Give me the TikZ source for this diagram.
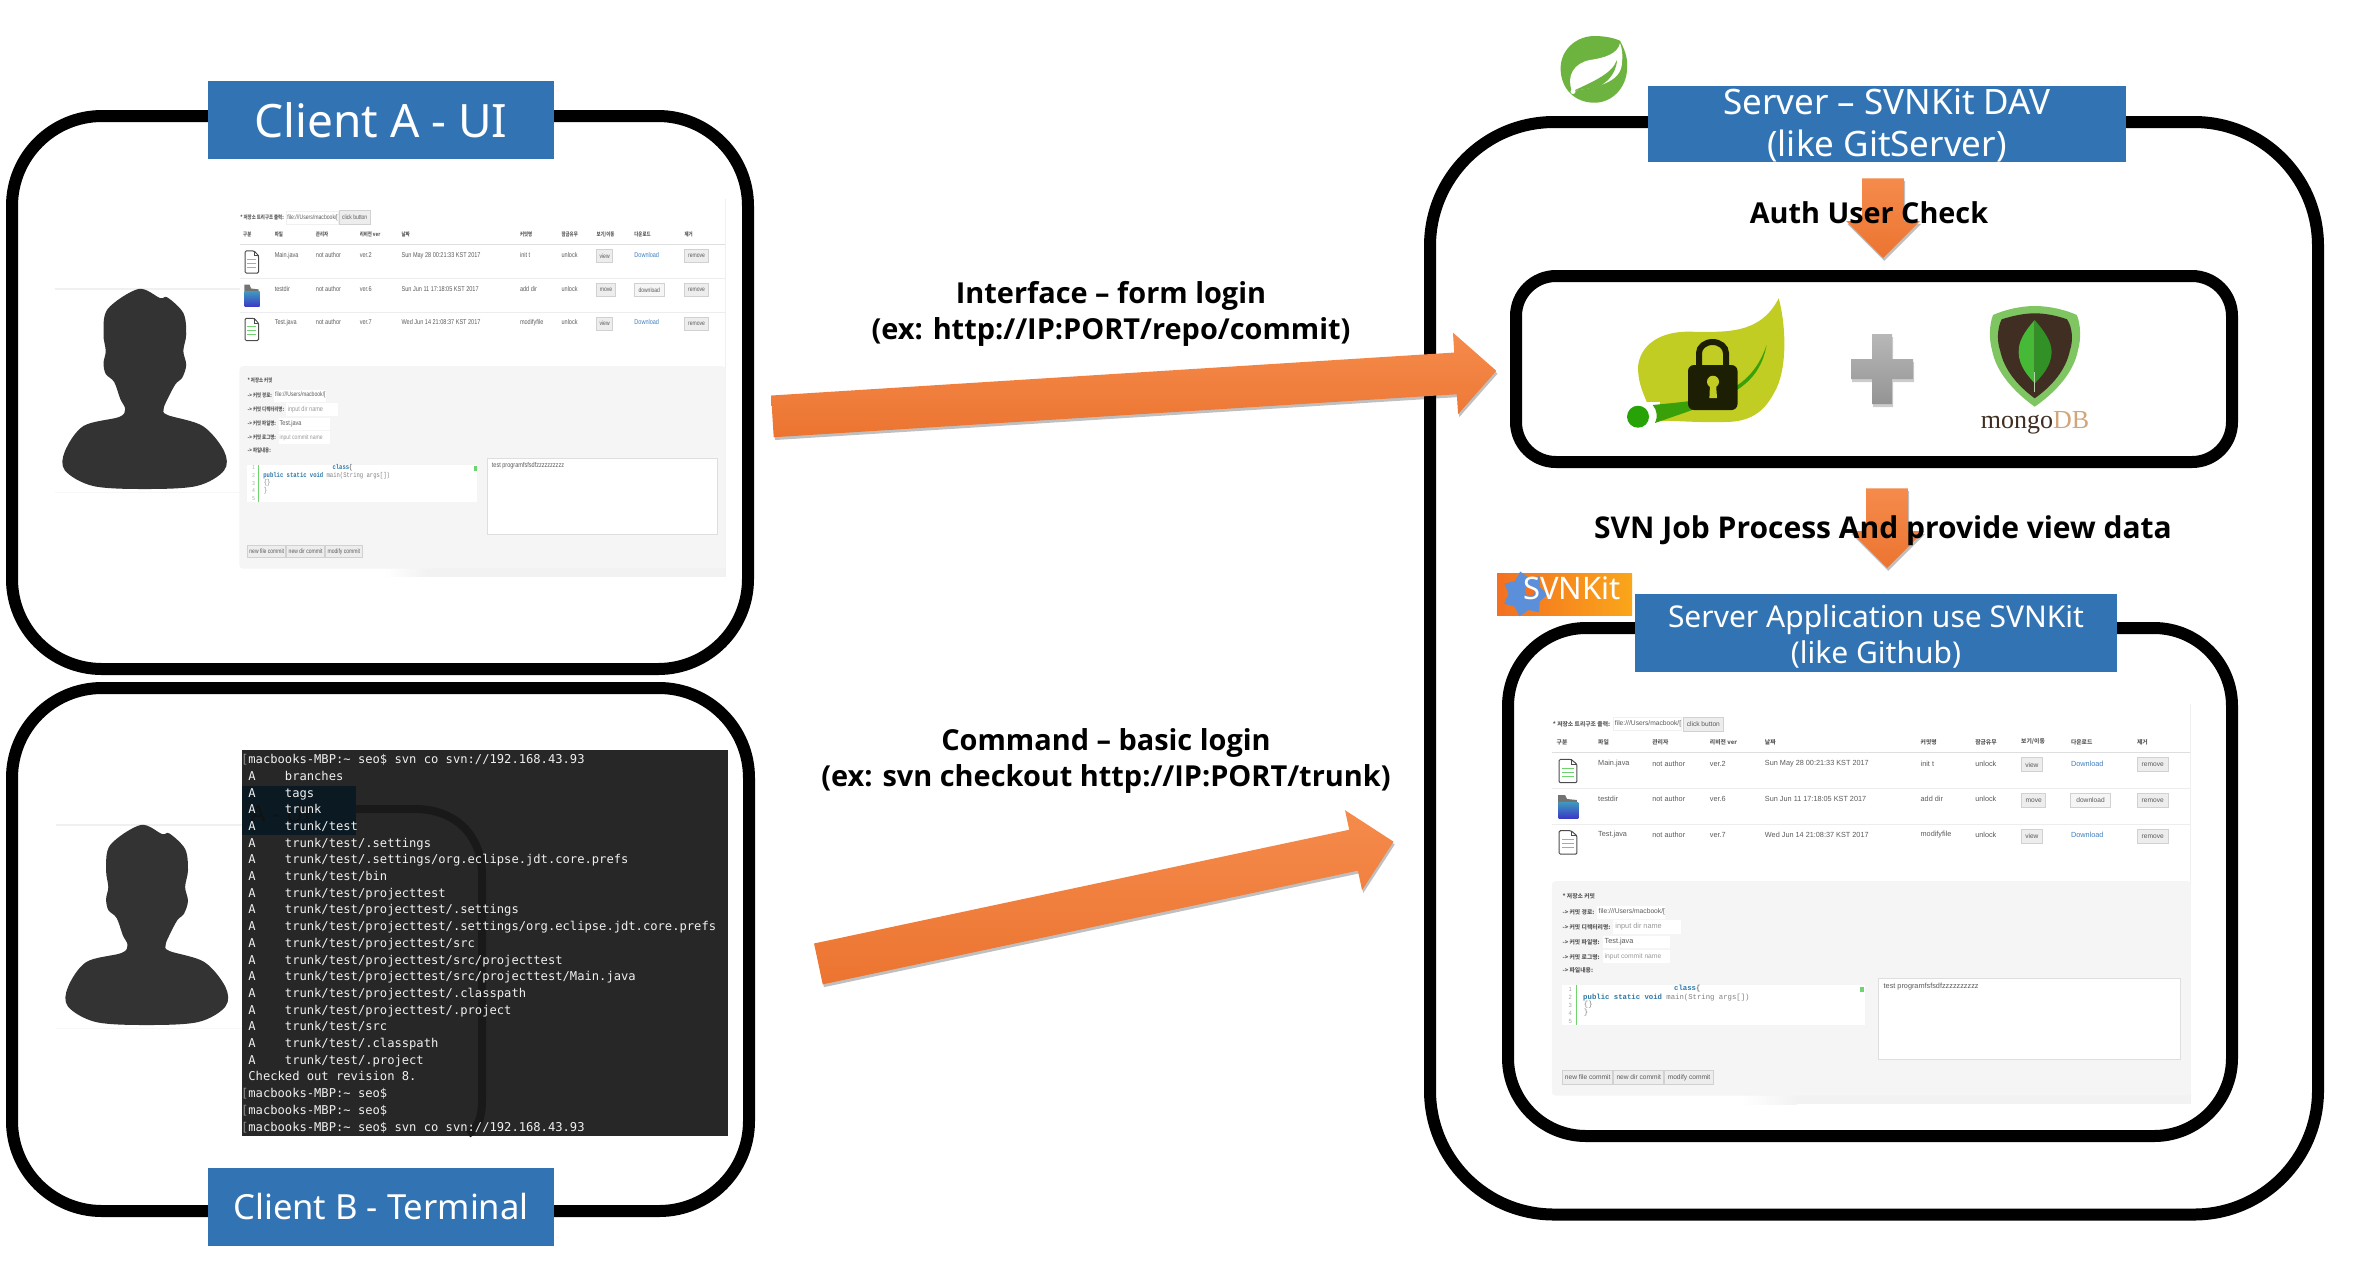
\documentclass[tikz,border=0pt]{standalone}
\usepackage{fontspec}
\usetikzlibrary{shapes.arrows,shapes.geometric,shadows}
\setmainfont{Noto Sans}
\newfontfamily\capfont{Open Sans}
\newfontfamily\krfont{Noto Sans CJK KR}
\newfontfamily\webfont{Liberation Sans}
\newfontfamily\codefont{Liberation Mono}
\newfontfamily\termfont{DejaVu Sans Mono}
\newfontfamily\mongofont{Liberation Serif}
\definecolor{titleblue}{HTML}{3274B3}
\definecolor{arrowlight}{HTML}{F58B4C}
\definecolor{arrowdark}{HTML}{EC7430}
\definecolor{webgrey}{HTML}{5A5A5A}
\definecolor{weblink}{HTML}{3F7FC0}
\definecolor{weblive}{HTML}{6FD46F}
\definecolor{codeblue}{HTML}{2B78A8}
\definecolor{termback}{HTML}{272727}
\definecolor{termsel}{HTML}{0B1A22}
\definecolor{leafyellow}{HTML}{C2CD23}
\definecolor{springgreen}{HTML}{6DB33F}
\definecolor{mongobrown}{HTML}{3F2E21}
\definecolor{mongogreen}{HTML}{7FC662}
\definecolor{svnleft}{HTML}{F37021}
\definecolor{svnright}{HTML}{FAA61A}
\definecolor{svngearblue}{HTML}{5B8FD9}
\tikzset{
  frame/.style={line width=6pt,draw=black},
  titlebox/.style={fill=titleblue,text=white,inner sep=0pt,align=center,minimum width=173pt,minimum height=39pt},
  blockarrow/.style={single arrow,inner sep=0pt,inner ysep=10.25pt,single arrow head extend=10pt,
    single arrow tip angle=90,anchor=tail,top color=arrowlight,bottom color=arrowdark,
    drop shadow={shadow xshift=.6pt,shadow yshift=-1.4pt,opacity=.25,fill=black}},
  caption/.style={font=\capfont\bfseries\fontsize{14.45}{18}\selectfont,align=center,inner sep=0pt},
  webtext/.style={anchor=west,inner sep=0pt,text=webgrey,font=\webfont\fontsize{3.7}{4}\selectfont},
  webhead/.style={anchor=west,inner sep=0pt,text=webgrey,font=\krfont\bfseries\fontsize{2.95}{4}\selectfont},
  webinput/.style={fill=white,draw=black!6,line width=.3pt},
  webbtn/.style={draw=black!18,fill=black!7,line width=.5pt,inner sep=0pt,minimum width=#1,minimum height=7pt,
    text=webgrey,font=\webfont\fontsize{3.35}{4}\selectfont},
  person/.pic={
    \fill[black!80] plot[smooth cycle,tension=.55] coordinates {(75.7,0) (98,9) (105.7,8.5) (122,24) (125,45) (122,62)
      (125,76) (120.7,89) (114,95) (105.7,110) (101.7,120) (105.7,126) (142,137) (164,162) (164,181.5) (135.7,197)
      (82,200) (29,197) (0,181.5) (0,162) (19,137) (55.7,128) (62,120) (57,110) (50.7,93) (42,85) (39.7,74) (42,62)
      (39.7,45) (44,20)};
  },
  docicon/.pic={
    \draw[line width=.5pt,draw=black!70,fill=white,rounded corners=.6pt] (0,0) -- (12,0) -- (18,5) -- (18,23.4) -- (0,23.4) -- cycle;
    \draw[line width=.4pt,draw=black!70] (12,0) -- (12,5) -- (18,5);
    \draw[line width=.5pt,draw=weblive] (3,9) -- (15,9) (3,13) -- (15,13) (3,17) -- (15,17);
  },
  foldericon/.pic={
    \fill[black!55] (0,0) -- (7,0) -- (9,4) -- (19,5) -- (19,12) -- (0,12) -- cycle;
    \shade[top color=blue!30!cyan!50!gray,bottom color=blue!55!gray] (0.5,7) -- (20.5,7) -- (20.5,23.3) -- (0.5,23.3) -- cycle;
  },
  webpage/.pic={
    % outer edge of the page
    \draw[black!6,line width=.5pt] (699.5,4) -- (699.5,404);
    \shade[left color=white,right color=black!5] (245,395) rectangle (300,404);
    \fill[black!5] (300,395) rectangle (699.5,404);
    % tree form
    \node[webhead] (treelabel) at (52.5,24) {* 저장소 트리구조 출력:};
    \node[webinput,webtext,minimum width=34.5pt,minimum height=6.7pt,text width=33pt,inner sep=.4pt,font=\webfont\fontsize{3.4}{4}\selectfont] (treeinput) at (114,24) {file:///Users/macbook/[};
    \node[webbtn=20.5pt] (clickbtn) at (205.5,24) {click button};
    % table head
    \node[webhead] (hkind) at (56.4,42) {구분};
    \node[webhead] (hfile) at (98.5,42) {파일};
    \node[webhead] (huser) at (153.4,42) {관리자};
    \node[webhead] (hrev) at (211.8,42) {리비전 ver};
    \node[webhead] (hdate) at (267.6,42) {날짜};
    \node[webhead] (hcommit) at (425.5,42) {커밋명};
    \node[webhead] (hlock) at (480.9,42) {잠금유무};
    \node[webhead] (hview) at (527.5,42) {보기/이동};
    \node[webhead] (hdown) at (578,42) {다운로드};
    \node[webhead] (hdel) at (645,42) {제거};
    \draw[black!13,line width=.8pt] (52.5,52.3) -- (699.5,52.3);
    \draw[black!7,line width=.6pt] (52.5,88.3) -- (699.5,88.3) (52.5,124.3) -- (699.5,124.3);
    % rows
    \pic at (59.3,59.3) {docicon};
    \node[webtext] (name1) at (98.5,64) {Main.java};
    \node[webtext] (user1) at (153.4,64) {not author};
    \node[webtext] (rev1) at (211.8,64) {ver.2};
    \node[webtext] (date1) at (267.6,64) {Sun May 28 00:21:33 KST 2017};
    \node[webtext] (msg1) at (425.5,64) {init t};
    \node[webtext] (lock1) at (480.9,64) {unlock};
    \node[webbtn=10.8pt] (view1) at (538.7,64.7) {view};
    \node[webtext,text=weblink] (link1) at (578,64) {Download};
    \node[webbtn=15.7pt] (del1) at (661.3,64.7) {remove};
    \pic at (58.3,95) {foldericon};
    \node[webtext] (name2) at (98.5,99.3) {testdir};
    \node[webtext] (user2) at (153.4,99.3) {not author};
    \node[webtext] (rev2) at (211.8,99.3) {ver.6};
    \node[webtext] (date2) at (267.6,99.3) {Sun Jun 11 17:18:05 KST 2017};
    \node[webtext] (msg2) at (425.5,99.3) {add dir};
    \node[webtext] (lock2) at (480.9,99.3) {unlock};
    \node[webbtn=12.5pt] (move2) at (540.5,100.5) {move};
    \node[webbtn=20pt,fill=black!4] (down2) at (598.2,100.5) {download};
    \node[webbtn=15.7pt] (del2) at (661.3,100.5) {remove};
    \pic at (59.3,130.7) {docicon};
    \node[webtext] (name3) at (98.5,135) {Test.java};
    \node[webtext] (user3) at (153.4,135) {not author};
    \node[webtext] (rev3) at (211.8,135) {ver.7};
    \node[webtext] (date3) at (267.6,135) {Wed Jun 14 21:08:37 KST 2017};
    \node[webtext] (msg3) at (425.5,135) {modifyfile};
    \node[webtext] (lock3) at (480.9,135) {unlock};
    \node[webbtn=10.8pt] (view3) at (538.7,136.3) {view};
    \node[webtext,text=weblink] (link3) at (578,135) {Download};
    \node[webbtn=15.7pt] (del3) at (661.3,136.3) {remove};
    % commit panel
    \draw[black!4,fill=black!4,line width=.5pt,rounded corners=1.5pt] (52.5,181.7) rectangle (699.5,395);
    \node[webhead] (commitlabel) at (62.3,196.7) {* 저장소 커밋};
    \node[webhead] (pathlabel) at (62.3,212) {-> 커밋 경로:};
    \fill[white] (98,206) rectangle (166.7,219);
    \node[webtext,font=\webfont\fontsize{3.4}{4}\selectfont] (pathvalue) at (99,212) {file:///Users/macbook/[};
    \node[webhead] (dirlabel) at (62.3,227) {-> 커밋 디렉터리명:};
    \fill[white] (114,220.3) rectangle (183,233.7);
    \node[webtext,text=black!40] (dirvalue) at (116,227) {input dir name};
    \node[webhead] (filelabel) at (62.3,242) {-> 커밋 파일명:};
    \fill[white] (104,235.7) rectangle (172,248.3);
    \node[webtext] (filevalue) at (105,242) {Test.java};
    \node[webhead] (loglabel) at (62.3,257) {-> 커밋 로그명:};
    \fill[white] (104,250.3) rectangle (172,263.3);
    \node[webtext,text=black!40,font=\webfont\fontsize{3.4}{4}\selectfont] (logvalue) at (105,257) {input commit name};
    \node[webhead] (textlabel) at (62.3,270.3) {-> 파일내용:};
    % code box
    \fill[white] (62.3,285.3) rectangle (369,325);
    \fill[weblive] (76,285.3) rectangle (77.5,325);
    \fill[weblive] (364,286.7) rectangle (368,291.7);
    \node[webtext,text=black!35,font=\webfont\fontsize{3}{3.5}\selectfont] (num1) at (68.5,289) {1};
    \node[webtext,text=black!35,font=\webfont\fontsize{3}{3.5}\selectfont] (num2) at (68.5,297.3) {2};
    \node[webtext,text=black!35,font=\webfont\fontsize{3}{3.5}\selectfont] (num3) at (68.5,305) {3};
    \node[webtext,text=black!35,font=\webfont\fontsize{3}{3.5}\selectfont] (num4) at (68.5,313) {4};
    \node[webtext,text=black!35,font=\webfont\fontsize{3}{3.5}\selectfont] (num5) at (68.5,321) {5};
    \node[webtext,text=codeblue,font=\codefont\bfseries\fontsize{3.7}{4}\selectfont] (code1) at (175.5,289) {class\textcolor{black!50}{\{}};
    \node[webtext,text=codeblue,font=\codefont\bfseries\fontsize{3.7}{4}\selectfont] (code2) at (83.3,297.3) {public static void \textcolor{black!50}{\mdseries main(String args[])}};
    \node[webtext,text=black!50,font=\codefont\fontsize{3.7}{4}\selectfont] (code3) at (84,305) {\{\}};
    \node[webtext,text=black!50,font=\codefont\fontsize{3.7}{4}\selectfont] (code4) at (84,313) {\}};
    % text area
    \draw[black!13,fill=white,line width=.4pt] (383,278.3) rectangle (689,359.3);
    \node[webtext] (areatext) at (388,287) {test programfsfsdfzzzzzzzzzz};
    % commit buttons
    \node[webbtn=25.4pt,minimum height=6.7pt] (newfile) at (88.2,377.3) {new file commit};
    \node[webbtn=25.2pt,minimum height=6.7pt] (newdir) at (140,377.3) {new dir commit};
    \node[webbtn=24.7pt,minimum height=6.7pt] (modify) at (191,377.3) {modify commit};
  },
}

\begin{document}
\begin{tikzpicture}[x=0.5pt,y=-0.5pt]
  \useasboundingbox (0,0) rectangle (2356,1282);

  % client a
  \draw[frame,rounded corners=45pt] (12,116) rectangle (748,669);
  \node[titlebox,font=\fontsize{23}{27}\selectfont] (clienta) at (381,120) {Client A - UI};
  \draw[black!6,line width=1pt] (55,289) -- (240,289);
  \draw[black!3,line width=.5pt] (55,492) -- (240,492);
  \pic[xscale=.97] (usera) at (65,289) {person};
  \pic[xscale=.75,yscale=.945,transform shape] (pagea) at (200.6,194.9) {webpage};

  % client b
  \draw[frame,rounded corners=45pt] (12,688) rectangle (749,1211);
  \draw[black!6,line width=1pt] (56,825) -- (243,825);
  \draw[black!3,line width=.5pt] (56,1028) -- (243,1028);
  \pic[xscale=.96] (userb) at (68,825) {person};
  \fill[termback] (242,750) rectangle (728,1136);
  \fill[termsel] (242,786) rectangle (356,835);
  \draw[black!90,line width=4pt] (356,809) -- (415,809) .. controls (455,809) and (482,835) .. (482,875) -- (482,1100)
    .. controls (482,1118) and (478,1128) .. (468,1134);
  \node[anchor=west,inner sep=0pt,text=black!55!termback,font=\fontsize{12}{14}\selectfont] (ghost) at (250,814) {A - UI};
  \node[anchor=north west,inner sep=0pt,align=left,text=black!6,font=\termfont\fontsize{6.07}{8.35}\selectfont] (terminal) at (248,754) {%
    \llap{\textcolor{black!45}{[}}macbooks-MBP:\string~ seo\$ svn co svn://192.168.43.93\\
    A\ \ \ \ branches\\
    A\ \ \ \ tags\\
    A\ \ \ \ trunk\\
    A\ \ \ \ trunk/test\\
    A\ \ \ \ trunk/test/.settings\\
    A\ \ \ \ trunk/test/.settings/org.eclipse.jdt.core.prefs\\
    A\ \ \ \ trunk/test/bin\\
    A\ \ \ \ trunk/test/projecttest\\
    A\ \ \ \ trunk/test/projecttest/.settings\\
    A\ \ \ \ trunk/test/projecttest/.settings/org.eclipse.jdt.core.prefs\\
    A\ \ \ \ trunk/test/projecttest/src\\
    A\ \ \ \ trunk/test/projecttest/src/projecttest\\
    A\ \ \ \ trunk/test/projecttest/src/projecttest/Main.java\\
    A\ \ \ \ trunk/test/projecttest/.classpath\\
    A\ \ \ \ trunk/test/projecttest/.project\\
    A\ \ \ \ trunk/test/src\\
    A\ \ \ \ trunk/test/.classpath\\
    A\ \ \ \ trunk/test/.project\\
    Checked out revision 8.\\
    \llap{\textcolor{black!45}{[}}macbooks-MBP:\string~ seo\$\\
    \llap{\textcolor{black!45}{[}}macbooks-MBP:\string~ seo\$\\
    \llap{\textcolor{black!45}{[}}macbooks-MBP:\string~ seo\$ svn co svn://192.168.43.93};
  \node[titlebox,font=\fontsize{17.3}{22}\selectfont] (clientb) at (381,1207) {Client B - Terminal};

  % server
  \draw[frame,rounded corners=62pt] (1430,122) rectangle (2318,1214.5);
  \draw[frame,rounded corners=20pt] (1516,276) rectangle (2232,462);
  \draw[frame,rounded corners=39pt] (1508,628) rectangle (2232,1136);
  \node[titlebox,minimum width=239pt,minimum height=38pt,font=\fontsize{17.5}{21}\selectfont] (server) at (1887,124)
    {\raisebox{-5.5pt}[0pt][0pt]{Server – SVNKit DAV}\\\raisebox{-5.5pt}[0pt][0pt]{(like GitServer)}};
  \node[titlebox,minimum width=241pt,minimum height=39pt,font=\fontsize{15}{18}\selectfont] (serverapp) at (1876,633)
    {\raisebox{-6pt}[0pt][0pt]{Server Application use SVNKit}\\\raisebox{-6pt}[0pt][0pt]{(like Github)}};

  % spring logo
  \fill[springgreen] (1594.5,36) .. controls (1605,36) and (1614,38) .. (1620,40.7) .. controls (1626,52) and (1628,60) .. (1627,70)
    .. controls (1626,88) and (1612,102.7) .. (1594.5,102.7) .. controls (1574,102.7) and (1560.6,88) .. (1560.6,68.3)
    .. controls (1560.6,50) and (1576,36) .. (1594.5,36) -- cycle;
  \fill[white] (1620,43) .. controls (1618,54) and (1604,58) .. (1590,60) .. controls (1574,63) and (1566,76) .. (1572,91)
    .. controls (1592,88) and (1622,84) .. (1622,62) .. controls (1623,56) and (1622,48) .. (1620,43) -- cycle;
  \fill[springgreen] (1573,91) .. controls (1592,82) and (1612,74) .. (1617,60) .. controls (1616,76) and (1604,84) .. (1598,87) -- cycle;
  \fill[white] (1573,91.5) circle (2.5);

  % spring security logo
  \fill[leafyellow] (1778.7,298.3) .. controls (1786,325) and (1788,370) .. (1774,393) .. controls (1764,412) and (1750,422) .. (1725,422)
    .. controls (1700,423) and (1670,420) .. (1655,421) .. controls (1644,395) and (1638,385) .. (1638,366.7)
    .. controls (1640,345) and (1660,331) .. (1690,331.7) .. controls (1725,332) and (1760,335) .. (1778.7,298.3) -- cycle;
  \fill[white] (1645,402) rectangle (1660,428);
  \fill[black!45!green!70!leafyellow] (1652.7,405) .. controls (1700,400) and (1748,400) .. (1766.6,345)
    .. controls (1758,392) and (1720,400) .. (1655,423) .. controls (1658,417) and (1657,410) .. (1652.7,405) -- cycle;
  \fill[black!40!green!80!leafyellow] (1638,416.7) circle (11);
  \fill[black!85!leafyellow,rounded corners=3pt] (1688,365) rectangle (1737.5,410);
  \draw[black!85!leafyellow,line width=3pt] (1699,367) -- (1699,353) arc[start angle=180,end angle=0,x radius=13.5,y radius=-11] -- (1726,367);
  \fill[leafyellow] (1713,381.7) circle (6);
  \fill[leafyellow] (1710,384) -- (1716,384) -- (1717,398) -- (1709.4,398) -- cycle;

  % plus
  \shade[top color=black!28,bottom color=black!42,drop shadow={shadow xshift=.5pt,shadow yshift=-1.5pt,opacity=.2,fill=black}]
    (1872,334) -- (1892,334) -- (1892,359) -- (1913,359) -- (1913,379) -- (1892,379) -- (1892,404) -- (1872,404) -- (1872,379)
    -- (1851,379) -- (1851,359) -- (1872,359) -- cycle;

  % mongo logo
  \fill[mongogreen] (2034.7,306) .. controls (2050,306) and (2066,310) .. (2076.8,315) .. controls (2081,325) and (2081,340) .. (2078,350)
    .. controls (2074,372) and (2056,392) .. (2034.7,406.7) .. controls (2014,392) and (1996,372) .. (1992,350)
    .. controls (1989,340) and (1989,325) .. (1993,315) .. controls (2004,310) and (2020,306) .. (2034.7,306) -- cycle;
  \fill[mongobrown] (2034.7,313.3) .. controls (2046,313.3) and (2058,316) .. (2067,319.3) .. controls (2073,328) and (2073,342) .. (2070,350)
    .. controls (2066,370) and (2052,386) .. (2034.7,398.3) .. controls (2018,386) and (2004,370) .. (2000,350)
    .. controls (1997,342) and (1997,328) .. (2001.7,319.3) .. controls (2012,316) and (2024,313.3) .. (2034.7,313.3) -- cycle;
  \fill[green!35!mongogreen!85!black] (2034.7,320) .. controls (2024,332) and (2018,342) .. (2018.7,353) .. controls (2019,366) and (2028,376) .. (2034.7,383.3) -- cycle;
  \fill[green!40!mongogreen!65!black] (2034.7,320) .. controls (2045,332) and (2052,342) .. (2051.6,353) .. controls (2051,366) and (2042,376) .. (2034.7,383.3) -- cycle;
  \draw[black!15!mongogreen!50!white,line width=.7pt] (2034.7,372) -- (2034.7,391.7);
  \node[anchor=base,inner sep=0pt,text=mongobrown,font=\mongofont\fontsize{13}{15}\selectfont] (mongoname) at (2035,428) {mongo\textcolor{brown!70!white}{DB}};

  % svnkit logo
  \shade[left color=svnleft,right color=svnright] (1497,573.3) rectangle (1632,615);
  \node[star,star points=7,star point ratio=1.4,fill=svngearblue,inner sep=0pt,minimum size=23pt,rotate=12] (svngear) at (1525,594) {};
  \node[circle,fill=svnleft,inner sep=0pt,minimum size=5pt] (svnhole) at (1530,591) {};
  \node[anchor=center,inner sep=0pt,text=white,font=\fontsize{15.5}{17}\selectfont] (svnname) at (1572,588) {SVNKit};

  \pic[xscale=.986,yscale=1,transform shape] (pageb) at (1500.7,700) {webpage};

  % arrows
  \node[blockarrow,minimum height=362.7pt,rotate=3.6] (arrowform) at (772,416.4) {};
  \node[blockarrow,minimum height=294pt,rotate=12] (arrowbasic) at (818,964) {};
  \node[blockarrow,minimum height=39.8pt,single arrow head extend=8pt,rotate=-90] (arrowauth) at (1883,178) {};
  \node[blockarrow,minimum height=39.8pt,single arrow head extend=8pt,rotate=-90] (arrowjob) at (1887,488) {};

  % labels
  \node[caption] (formlabel) at (1111,313.5) {Interface – form login\\(ex: http://IP:PORT/repo/commit)};
  \node[caption] (basiclabel) at (1106,761) {Command – basic login\\(ex: svn checkout http://IP:PORT/trunk)};
  \node[caption,font=\capfont\bfseries\fontsize{14.4}{18}\selectfont] (authlabel) at (1869,213) {Auth User Check};
  \node[caption,font=\capfont\bfseries\fontsize{15}{18}\selectfont] (joblabel) at (1883,531) {SVN Job Process And provide view data};
\end{tikzpicture}
\end{document}
